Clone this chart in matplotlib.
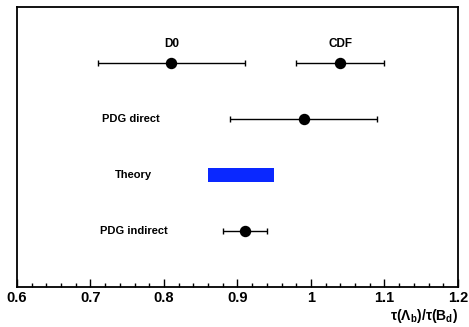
import matplotlib
matplotlib.use("Agg")
import matplotlib.pyplot as plt
from matplotlib.ticker import MultipleLocator, FixedLocator, FixedFormatter

plt.rcParams['font.family'] = ['Liberation Sans', 'DejaVu Sans']
plt.rcParams['mathtext.fontset'] = 'custom'
plt.rcParams['mathtext.rm'] = 'Liberation Sans:bold'
plt.rcParams['mathtext.bf'] = 'Liberation Sans:bold'
plt.rcParams['mathtext.default'] = 'rm'

# Lifetime ratio measurements
meas_names = ["D0", "CDF", "PDG direct", "PDG indirect"]
meas_vals = [0.81, 1.04, 0.99, 0.91]
meas_lo = [0.10, 0.06, 0.10, 0.03]
meas_hi = [0.10, 0.06, 0.10, 0.03]
meas_rows = [4, 4, 3, 1]

# Theory prediction band
theory_lo, theory_hi = 0.86, 0.95
theory_row = 2

xticks = [0.6, 0.7, 0.8, 0.9, 1.0, 1.1, 1.2]
xticklabels = ["0.6", "0.7", "0.8", "0.9", "1", "1.1", "1.2"]

fig = plt.figure(figsize=(4.69, 3.27), dpi=100)
ax = fig.add_axes([0.0362, 0.1223, 0.9403, 0.8563])

ax.errorbar(meas_vals, meas_rows, xerr=[meas_lo, meas_hi], fmt='o', color='black',
            ms=7.2, elinewidth=1.0, capsize=2, capthick=1.0)

ax.barh(theory_row, theory_hi - theory_lo, left=theory_lo, height=0.25,
        color='#0a28ff', edgecolor='none')

# Row labels
ax.text(meas_vals[0], 4.34, "D0", ha='center', va='center', fontsize=8.5, fontweight='bold')
ax.text(meas_vals[1], 4.34, "CDF", ha='center', va='center', fontsize=8.5, fontweight='bold')
ax.text(0.755, 3, "PDG direct", ha='center', va='center', fontsize=8, fontweight='bold')
ax.text(0.758, 2, "Theory", ha='center', va='center', fontsize=8, fontweight='bold')
ax.text(0.759, 1, "PDG indirect", ha='center', va='center', fontsize=8, fontweight='bold')

ax.set_xlim(0.6, 1.2)
ax.set_ylim(0, 5)
ax.xaxis.set_major_locator(FixedLocator(xticks))
ax.xaxis.set_major_formatter(FixedFormatter(xticklabels))
ax.xaxis.set_minor_locator(MultipleLocator(0.02))
ax.tick_params(axis='x', which='major', direction='in', length=6, width=1,
               labelsize=10.5, pad=3, top=False)
ax.tick_params(axis='x', which='minor', direction='in', length=3, width=1, top=False)
ax.set_yticks([])
for lbl in ax.get_xticklabels():
    lbl.set_fontweight('bold')
for s in ax.spines.values():
    s.set_linewidth(1.3)

ax.set_xlabel("τ(Λ$_{b}$)/τ(B$_{d}$)", fontsize=10, fontweight='bold',
              loc='right', labelpad=1)

fig.savefig("out.png", dpi=100)
